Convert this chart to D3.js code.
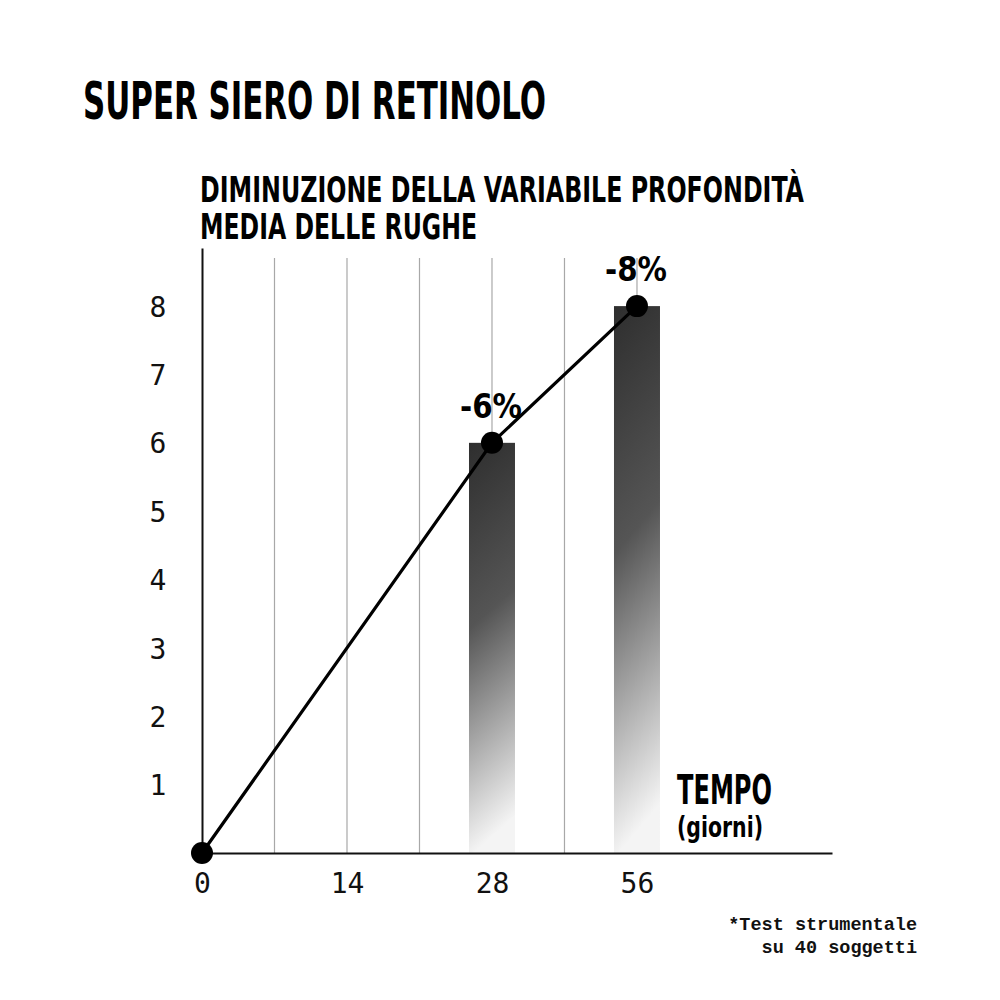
<!DOCTYPE html>
<html>
<head>
<meta charset="utf-8">
<script src="https://cdn.jsdelivr.net/npm/d3@7"></script>
<style>
  body { margin: 0; background: #fff; }
  .cond { font-family: "Liberation Sans Narrow", "DejaVu Sans Condensed", "DejaVu Sans", sans-serif; font-weight: bold; font-stretch: condensed; }
  .mono { font-family: "DejaVu Sans Mono", monospace; }
  .foot { font-family: "Liberation Mono", "Courier New", monospace; font-weight: bold; }
</style>
</head>
<body>
<svg id="chart" width="1000" height="1000"></svg>
<script>
// x slots (days) -- gridlines drawn at every slot, labels only on some
const daySlots = ["0", "7", "14", "21", "28", "42", "56"];
const dayLabels = ["0", "14", "28", "56"];
// measured points: day -> mean wrinkle depth decrease (%)
const days = ["0", "28", "56"];
const decrease = [0, 6, 8];
const barDays = ["28", "56"];
const barValues = [6, 8];
const barLabels = ["-6%", "-8%"];
const yTicks = [1, 2, 3, 4, 5, 6, 7, 8];

const svg = d3.select("#chart");

// index scale over slots; axis keeps running a bit past the last slot
const x = d3.scaleLinear().domain([0, 8.69]).range([202, 832]);
const xs = d => x(daySlots.indexOf(d));
const y = d3.scaleLinear().domain([0, 8.85]).range([853, 248]);

// gradient for the bars
const grad = svg.append("defs").append("linearGradient")
  .attr("id", "barGrad")
  .attr("x1", 0).attr("y1", 0).attr("x2", 0.1).attr("y2", 1);
grad.append("stop").attr("offset", "0%").attr("stop-color", "#2e2e2e");
grad.append("stop").attr("offset", "45%").attr("stop-color", "#555");
grad.append("stop").attr("offset", "100%").attr("stop-color", "#f4f4f4");

// vertical gridlines
svg.append("g").selectAll("line")
  .data(daySlots.slice(1))
  .join("line")
  .attr("x1", d => xs(d)).attr("x2", d => xs(d))
  .attr("y1", 258).attr("y2", y(0))
  .attr("stroke", "#a8a8a8").attr("stroke-width", 1.2);

// bars
const bw = 46;
svg.append("g").selectAll("rect")
  .data(barDays)
  .join("rect")
  .attr("x", d => xs(d) - bw / 2)
  .attr("y", (d, i) => y(barValues[i]))
  .attr("width", bw)
  .attr("height", (d, i) => y(0) - y(barValues[i]))
  .attr("fill", "url(#barGrad)");

// axes
const yAxis = svg.append("g").attr("transform", `translate(${x(0)},0)`)
  .call(d3.axisLeft(y).tickValues(yTicks).tickSize(0).tickPadding(44));
yAxis.select(".domain").attr("stroke", "#111").attr("stroke-width", 2);
yAxis.selectAll("text").attr("class", "mono").attr("font-size", 28)
  .attr("fill", "#111").attr("text-anchor", "middle").attr("dy", "0.36em");

const xAxis = svg.append("g").attr("transform", `translate(0,${y(0)})`)
  .call(d3.axisBottom(x)
    .tickValues(dayLabels.map(d => daySlots.indexOf(d)))
    .tickFormat(i => daySlots[i])
    .tickSize(0).tickPadding(20));
xAxis.select(".domain").attr("stroke", "#111").attr("stroke-width", 2);
xAxis.selectAll("text").attr("class", "mono").attr("font-size", 28).attr("fill", "#111");

// line + points
const pts = days.map((d, i) => [xs(d), y(decrease[i])]);
svg.append("path")
  .attr("d", d3.line()(pts))
  .attr("fill", "none").attr("stroke", "#000").attr("stroke-width", 3.2);
svg.append("g").selectAll("circle")
  .data(pts)
  .join("circle")
  .attr("cx", d => d[0]).attr("cy", d => d[1]).attr("r", 11)
  .attr("fill", "#000");

// value labels
svg.append("g").selectAll("text")
  .data(barDays)
  .join("text")
  .attr("class", "cond")
  .attr("x", d => xs(d) - 1)
  .attr("y", (d, i) => y(barValues[i]) - 25)
  .attr("text-anchor", "middle")
  .attr("font-size", 34)
  .attr("textLength", 62).attr("lengthAdjust", "spacingAndGlyphs")
  .text((d, i) => barLabels[i]);

// titles
svg.append("text").attr("class", "cond")
  .attr("x", 83).attr("y", 119).attr("font-size", 52)
  .attr("textLength", 463).attr("lengthAdjust", "spacingAndGlyphs")
  .text("SUPER SIERO DI RETINOLO");
svg.append("text").attr("class", "cond")
  .attr("x", 200).attr("y", 202).attr("font-size", 35)
  .attr("textLength", 604).attr("lengthAdjust", "spacingAndGlyphs")
  .text("DIMINUZIONE DELLA VARIABILE PROFONDITÀ");
svg.append("text").attr("class", "cond")
  .attr("x", 200).attr("y", 239).attr("font-size", 35)
  .attr("textLength", 277).attr("lengthAdjust", "spacingAndGlyphs")
  .text("MEDIA DELLE RUGHE");

// x axis title
svg.append("text").attr("class", "cond")
  .attr("x", 677).attr("y", 804).attr("font-size", 40)
  .attr("textLength", 95).attr("lengthAdjust", "spacingAndGlyphs")
  .text("TEMPO");
svg.append("text").attr("class", "cond")
  .attr("x", 677).attr("y", 837).attr("font-size", 28)
  .attr("textLength", 86).attr("lengthAdjust", "spacingAndGlyphs")
  .text("(giorni)");

// footnote
const foot = svg.append("text").attr("class", "foot")
  .attr("text-anchor", "end").attr("font-size", 18.5).attr("fill", "#111");
foot.append("tspan").attr("x", 917).attr("y", 930).text("*Test strumentale");
foot.append("tspan").attr("x", 917).attr("y", 953).text("su 40 soggetti");
</script>
</body>
</html>
